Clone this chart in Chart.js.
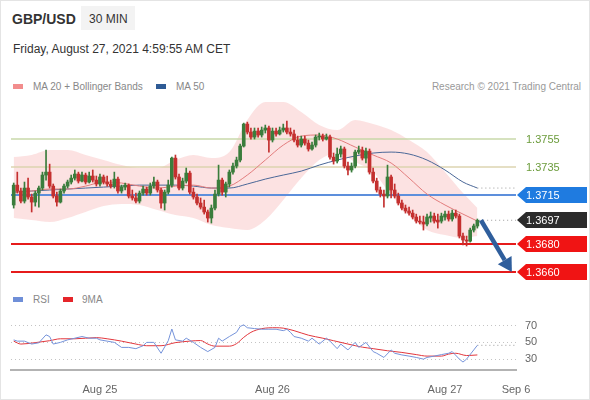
<!DOCTYPE html>
<html>
<head>
<meta charset="utf-8">
<script src="https://cdn.jsdelivr.net/npm/chart.js@4.4.1/dist/chart.umd.min.js"></script>
<style>
  html, body { margin: 0; padding: 0; background: #fff; }
  #wrap { position: relative; width: 590px; height: 400px; overflow: hidden; font-family: "Liberation Sans", Arial, sans-serif; }
  .t { position: absolute; white-space: nowrap; line-height: 1; }
  .sw { position: absolute; width: 10px; height: 5px; }
  .box { position: absolute; left: 0; width: 590px; }
  #frame { position: absolute; left: 0; top: 0; width: 590px; height: 400px; box-sizing: border-box; border: 1px solid #e4e4e4; pointer-events: none; }
</style>
</head>
<body>
<div id="wrap">
  <div class="t" style="left:12px;top:12px;font-size:14px;font-weight:bold;color:#333">GBP/USD</div>
  <div class="t" style="left:81px;top:6px;width:54px;height:24px;background:#f3f3f3"></div>
  <div class="t" style="left:89px;top:13px;font-size:12px;color:#333">30 MIN</div>
  <div class="t" style="left:13px;top:43px;font-size:12px;color:#333">Friday, August 27, 2021 4:59:55 AM CET</div>

  <div class="sw" style="left:13px;top:84px;background:#f28d8d"></div>
  <div class="t" style="left:33px;top:82px;font-size:10px;color:#888">MA 20 + Bollinger Bands</div>
  <div class="sw" style="left:156px;top:84px;background:#2f5b95"></div>
  <div class="t" style="left:176px;top:82px;font-size:10px;color:#888">MA 50</div>
  <div class="t" style="right:9px;top:82px;font-size:10px;color:#999">Research © 2021 Trading Central</div>

  <div class="sw" style="left:13px;top:297px;background:#6f8fd8"></div>
  <div class="t" style="left:33px;top:295px;font-size:10px;color:#888">RSI</div>
  <div class="sw" style="left:63px;top:297px;background:#e5252a"></div>
  <div class="t" style="left:82px;top:295px;font-size:10px;color:#888">9MA</div>

  <div class="box" style="top:95px;height:195px"><canvas id="price"></canvas></div>
  <div class="box" style="top:300px;height:100px"><canvas id="rsi"></canvas></div>
  <div id="frame"></div>
</div>
<script>
// 30 min candles, bar index 0 = Aug 24 12:00
const opens = [1.37079, 1.37221, 1.37179, 1.37107, 1.37200, 1.37136, 1.37100, 1.37164, 1.37200, 1.37293,
    1.37314, 1.37214, 1.37143, 1.37100, 1.37179, 1.37214, 1.37243, 1.37271, 1.37300, 1.37250,
    1.37293, 1.37243, 1.37286, 1.37257, 1.37229, 1.37279, 1.37243, 1.37229, 1.37214, 1.37264,
    1.37179, 1.37207, 1.37221, 1.37143, 1.37129, 1.37107, 1.37164, 1.37193, 1.37164, 1.37214,
    1.37243, 1.37186, 1.37093, 1.37171, 1.37221, 1.37414, 1.37279, 1.37200, 1.37250, 1.37307,
    1.37171, 1.37136, 1.37093, 1.37064, 1.37029, 1.36986, 1.37057, 1.37157, 1.37257, 1.37171,
    1.37229, 1.37314, 1.37357, 1.37400, 1.37500, 1.37657, 1.37600, 1.37564, 1.37607, 1.37579,
    1.37614, 1.37629, 1.37543, 1.37607, 1.37586, 1.37614, 1.37629, 1.37600, 1.37586, 1.37543,
    1.37507, 1.37550, 1.37521, 1.37479, 1.37507, 1.37564, 1.37571, 1.37550, 1.37564, 1.37421,
    1.37393, 1.37443, 1.37479, 1.37357, 1.37329, 1.37357, 1.37457, 1.37471, 1.37414, 1.37464,
    1.37314, 1.37250, 1.37186, 1.37157, 1.37143, 1.37279, 1.37186, 1.37143, 1.37093, 1.37057,
    1.37036, 1.37021, 1.36993, 1.36964, 1.36957, 1.36943, 1.36986, 1.37000, 1.36971, 1.36964,
    1.36993, 1.37014, 1.36979, 1.37021, 1.37000, 1.36857, 1.36829, 1.36821, 1.36900, 1.36929];
const highs = [1.37236, 1.37314, 1.37200, 1.37243, 1.37271, 1.37157, 1.37179, 1.37214, 1.37314, 1.37471,
    1.37371, 1.37229, 1.37171, 1.37193, 1.37229, 1.37257, 1.37293, 1.37329, 1.37314, 1.37314,
    1.37307, 1.37314, 1.37329, 1.37286, 1.37300, 1.37293, 1.37286, 1.37257, 1.37314, 1.37279,
    1.37221, 1.37236, 1.37229, 1.37186, 1.37164, 1.37179, 1.37214, 1.37207, 1.37236, 1.37279,
    1.37257, 1.37200, 1.37186, 1.37257, 1.37421, 1.37436, 1.37300, 1.37271, 1.37343, 1.37321,
    1.37200, 1.37157, 1.37129, 1.37114, 1.37043, 1.37079, 1.37186, 1.37364, 1.37271, 1.37243,
    1.37329, 1.37379, 1.37421, 1.37514, 1.37664, 1.37671, 1.37629, 1.37629, 1.37629, 1.37636,
    1.37650, 1.37643, 1.37629, 1.37629, 1.37636, 1.37657, 1.37679, 1.37629, 1.37614, 1.37571,
    1.37571, 1.37571, 1.37543, 1.37529, 1.37579, 1.37593, 1.37586, 1.37586, 1.37579, 1.37450,
    1.37486, 1.37500, 1.37493, 1.37386, 1.37379, 1.37471, 1.37500, 1.37493, 1.37486, 1.37479,
    1.37343, 1.37271, 1.37207, 1.37186, 1.37364, 1.37293, 1.37229, 1.37164, 1.37114, 1.37079,
    1.37064, 1.37043, 1.37014, 1.37000, 1.37000, 1.37014, 1.37029, 1.37021, 1.37014, 1.37021,
    1.37036, 1.37036, 1.37043, 1.37043, 1.37014, 1.36879, 1.36857, 1.36914, 1.36943, 1.36979];
const lows = [1.37057, 1.37164, 1.37093, 1.37093, 1.37121, 1.37029, 1.37071, 1.37064, 1.37186, 1.37257,
    1.37200, 1.37129, 1.37071, 1.37093, 1.37164, 1.37200, 1.37229, 1.37257, 1.37236, 1.37243,
    1.37229, 1.37236, 1.37243, 1.37214, 1.37214, 1.37229, 1.37214, 1.37200, 1.37200, 1.37164,
    1.37164, 1.37186, 1.37129, 1.37114, 1.37093, 1.37093, 1.37150, 1.37150, 1.37150, 1.37200,
    1.37171, 1.37057, 1.37043, 1.37157, 1.37207, 1.37264, 1.37186, 1.37186, 1.37236, 1.37157,
    1.37121, 1.37079, 1.37050, 1.37014, 1.36957, 1.36950, 1.37043, 1.37143, 1.37150, 1.37136,
    1.37207, 1.37300, 1.37343, 1.37386, 1.37493, 1.37586, 1.37550, 1.37550, 1.37564, 1.37564,
    1.37593, 1.37457, 1.37529, 1.37571, 1.37579, 1.37600, 1.37586, 1.37571, 1.37529, 1.37493,
    1.37493, 1.37507, 1.37464, 1.37471, 1.37493, 1.37543, 1.37536, 1.37543, 1.37407, 1.37371,
    1.37379, 1.37421, 1.37343, 1.37293, 1.37314, 1.37343, 1.37443, 1.37400, 1.37379, 1.37300,
    1.37236, 1.37171, 1.37136, 1.37064, 1.37129, 1.37129, 1.37129, 1.37079, 1.37043, 1.37021,
    1.37007, 1.36979, 1.36950, 1.36943, 1.36900, 1.36929, 1.36957, 1.36950, 1.36914, 1.36950,
    1.36971, 1.36964, 1.36964, 1.36986, 1.36843, 1.36793, 1.36786, 1.36814, 1.36886, 1.36914];
const closes = [1.37221, 1.37179, 1.37107, 1.37200, 1.37136, 1.37100, 1.37164, 1.37200, 1.37293, 1.37314,
    1.37214, 1.37143, 1.37100, 1.37179, 1.37214, 1.37243, 1.37271, 1.37300, 1.37250, 1.37293,
    1.37243, 1.37286, 1.37257, 1.37229, 1.37279, 1.37243, 1.37229, 1.37214, 1.37264, 1.37179,
    1.37207, 1.37221, 1.37143, 1.37129, 1.37107, 1.37164, 1.37193, 1.37164, 1.37214, 1.37243,
    1.37186, 1.37093, 1.37171, 1.37221, 1.37414, 1.37279, 1.37200, 1.37250, 1.37307, 1.37171,
    1.37136, 1.37093, 1.37064, 1.37029, 1.36986, 1.37057, 1.37157, 1.37257, 1.37171, 1.37229,
    1.37314, 1.37357, 1.37400, 1.37500, 1.37657, 1.37600, 1.37564, 1.37607, 1.37579, 1.37614,
    1.37629, 1.37543, 1.37607, 1.37586, 1.37614, 1.37629, 1.37600, 1.37586, 1.37543, 1.37507,
    1.37550, 1.37521, 1.37479, 1.37507, 1.37564, 1.37571, 1.37550, 1.37564, 1.37421, 1.37393,
    1.37443, 1.37479, 1.37357, 1.37329, 1.37357, 1.37457, 1.37471, 1.37414, 1.37464, 1.37314,
    1.37250, 1.37186, 1.37157, 1.37143, 1.37279, 1.37186, 1.37143, 1.37093, 1.37057, 1.37036,
    1.37021, 1.36993, 1.36964, 1.36957, 1.36943, 1.36993, 1.37000, 1.36964, 1.36957, 1.37000,
    1.37014, 1.36979, 1.37021, 1.37000, 1.36857, 1.36829, 1.36821, 1.36900, 1.36929, 1.36970];

// indicators read every 5 bars
const indX = [0, 5, 10, 15, 20, 25, 30, 35, 40, 45, 50, 55, 60, 65, 70, 75, 80, 85, 90, 95, 100, 105, 110, 115, 120, 125, 129];
const bandUpper = [1.37421, 1.37436, 1.37471, 1.37471, 1.37436, 1.37400, 1.37364, 1.37343, 1.37343, 1.37400, 1.37436, 1.37414, 1.37457,
    1.37686, 1.37814, 1.37814, 1.37743, 1.37650, 1.37614, 1.37686, 1.37657, 1.37614, 1.37543, 1.37457, 1.37314, 1.37164, 1.37057];
const bandLower = [1.36986, 1.36971, 1.36957, 1.36986, 1.37029, 1.37071, 1.37086, 1.37079, 1.37043, 1.37007, 1.36986, 1.36936, 1.36914,
    1.36900, 1.36971, 1.37114, 1.37271, 1.37400, 1.37450, 1.37386, 1.37314, 1.37150, 1.37007, 1.36900, 1.36864, 1.36843, 1.36857];
const ma20 = [1.37171, 1.37179, 1.37193, 1.37193, 1.37214, 1.37243, 1.37236, 1.37214, 1.37200, 1.37214, 1.37221, 1.37200, 1.37214,
    1.37293, 1.37400, 1.37507, 1.37571, 1.37579, 1.37550, 1.37493, 1.37436, 1.37379, 1.37271, 1.37157, 1.37079, 1.37014, 1.36964];
const ma50 = [1.37171, 1.37179, 1.37186, 1.37193, 1.37200, 1.37207, 1.37214, 1.37221, 1.37221, 1.37221, 1.37214, 1.37200, 1.37200,
    1.37229, 1.37264, 1.37293, 1.37321, 1.37364, 1.37400, 1.37429, 1.37450, 1.37457, 1.37443, 1.37400, 1.37329, 1.37243, 1.37200];

// RSI panel
const rsiX = [0, 1, 3, 5, 7, 9, 10, 11, 13, 15, 17, 19, 21, 23, 24, 26, 28, 30, 32, 34,
    36, 37, 39, 41, 43, 44, 45, 47, 48, 50, 52, 54, 56, 57, 58, 60, 62, 63, 64, 65,
    67, 69, 71, 73, 75, 76, 77, 78, 80, 82, 83, 85, 87, 88, 90, 91, 93, 95, 96, 98,
    100, 101, 103, 105, 106, 108, 110, 112, 114, 115, 117, 119, 121, 122, 124, 125, 126, 128, 129];
const rsi = [53, 51.5, 51.5, 48, 49.5, 59, 57, 48, 50, 53, 55, 57, 55, 55, 53, 51.5, 50, 44, 44, 42.5,
    46, 50, 50, 37, 52, 66, 53, 51.5, 55, 50, 44, 39, 44, 55, 51.5, 57, 62, 69, 71, 67.5,
    66.5, 65.7, 65.7, 65.7, 64, 65.7, 62, 57, 55, 51.5, 55, 48, 55, 51.5, 42.5, 48, 41, 50, 44, 50,
    39, 37, 32, 41, 37, 35, 33.6, 32, 30, 32, 33.6, 35.4, 37, 39, 30, 26.5, 30, 41, 46.5];
const rsiMaX = [0, 2, 6, 10, 13, 17, 23, 26, 30, 34, 37, 41, 45, 49, 52, 54, 56, 60, 62, 64,
    66, 69, 73, 75, 78, 82, 86, 89, 93, 97, 100, 104, 108, 112, 115, 119, 121, 123, 126, 129];
const rsiMa = [51.5, 48, 49.7, 52, 54.3, 54.3, 55.7, 54.3, 51.5, 48, 46, 46, 49.7, 51.5, 52.2, 48, 45.5, 45.5, 48.5, 56,
    62, 66.4, 67.5, 67, 64, 58.6, 55, 52, 48, 44.3, 42.5, 40, 38, 35.4, 33.6, 33.6, 36, 37, 34.3, 35];

// price levels shown on the right
const levelValues = [1.3755, 1.3735, 1.3715, 1.3697, 1.3680, 1.3660];
const levelLabels = ['1.3755', '1.3735', '1.3715', '1.3697', '1.3680', '1.3660'];
const arrowFrom = [130, 1.3697];
const arrowTo = [138.6, 1.3660];

// time axis
const xMin = -0.75, xMax = 139.75;
const tickValues = [24, 72, 120, 139.75];
const tickLabels = ['Aug 25', 'Aug 26', 'Aug 27', 'Sep 6'];
const rsiTicks = [30, 50, 70];

Chart.defaults.font.family = '"Liberation Sans", Arial, sans-serif';

const pts = (xs, ys) => xs.map((x, k) => ({ x: x, y: ys[k] }));
const flat = (v, from) => [{ x: from, y: v }, { x: xMax, y: v }];
const barIdx = closes.map((c, i) => i);
const candleColors = barIdx.map(i => closes[i] >= opens[i] ? '#3a7d3c' : '#c4302f');

// styles per level: line colour/width (null = no full line), tag colour (null = text only)
const levelLine = [['#c8d9aa', 1.5], ['#ddd4b0', 1.5], ['#5d8fdc', 2], null, ['#e61b1b', 2], ['#e61b1b', 2]];
const levelTag = [null, null, '#1f7be0', '#2b2b2b', '#f01414', '#f01414'];

const levelDatasets = [];
levelValues.forEach((v, k) => {
    if (!levelLine[k]) return;
    levelDatasets.push({
        type: 'line', data: flat(v, xMin), borderColor: levelLine[k][0], borderWidth: levelLine[k][1],
        pointRadius: 0, fill: false, order: 7
    });
});

// tags on the right and the forecast arrow
const levelTags = {
    id: 'levelTags',
    afterDraw(chart) {
        const { ctx, chartArea, scales: { x, y } } = chart;
        ctx.save();

        const x0 = x.getPixelForValue(arrowFrom[0]), y0 = y.getPixelForValue(arrowFrom[1]);
        const x1 = x.getPixelForValue(arrowTo[0]), y1 = y.getPixelForValue(arrowTo[1]);
        const ang = Math.atan2(y1 - y0, x1 - x0);
        const head = 14, half = 8;
        const bx = x1 - head * Math.cos(ang), by = y1 - head * Math.sin(ang);
        ctx.strokeStyle = '#2f5e9c';
        ctx.fillStyle = '#2f5e9c';
        ctx.lineWidth = 4.5;
        ctx.beginPath();
        ctx.moveTo(x0, y0);
        ctx.lineTo(bx, by);
        ctx.stroke();
        ctx.beginPath();
        ctx.moveTo(x1, y1);
        ctx.lineTo(bx + half * Math.sin(ang), by - half * Math.cos(ang));
        ctx.lineTo(bx - half * Math.sin(ang), by + half * Math.cos(ang));
        ctx.closePath();
        ctx.fill();

        ctx.font = '11px "Liberation Sans", Arial, sans-serif';
        ctx.textBaseline = 'middle';
        levelValues.forEach((v, k) => {
            const py = Math.round(y.getPixelForValue(v));
            const left = chartArea.right + 1, w = 70, h = 16, tip = 9;
            if (levelTag[k]) {
                ctx.fillStyle = levelTag[k];
                ctx.beginPath();
                ctx.moveTo(left, py);
                ctx.lineTo(left + tip, py - h / 2);
                ctx.lineTo(left + w, py - h / 2);
                ctx.lineTo(left + w, py + h / 2);
                ctx.lineTo(left + tip, py + h / 2);
                ctx.closePath();
                ctx.fill();
                ctx.fillStyle = '#fff';
            } else {
                ctx.fillStyle = '#6c9c3c';
            }
            ctx.fillText(levelLabels[k], left + 9, py + 1);
        });
        ctx.restore();
    }
};

new Chart(document.getElementById('price'), {
    type: 'bar',
    data: {
        datasets: [
            {
                type: 'line', data: pts(indX, bandUpper), fill: '+1', backgroundColor: 'rgba(244,140,140,0.25)',
                borderColor: 'rgba(0,0,0,0)', borderWidth: 1, pointRadius: 0, cubicInterpolationMode: 'monotone', order: 10
            },
            {
                type: 'line', data: pts(indX, bandLower), fill: false,
                borderColor: 'rgba(0,0,0,0)', borderWidth: 1, pointRadius: 0, cubicInterpolationMode: 'monotone', order: 10
            },
            ...levelDatasets,
            {
                type: 'line', data: pts(indX, ma20), borderColor: '#e27c7c', borderWidth: 1,
                pointRadius: 0, cubicInterpolationMode: 'monotone', fill: false, order: 5
            },
            {
                type: 'line', data: pts(indX, ma50), borderColor: '#4a6797', borderWidth: 1,
                pointRadius: 0, cubicInterpolationMode: 'monotone', fill: false, order: 5
            },
            {
                type: 'line', data: flat(ma50[ma50.length - 1], indX[indX.length - 1]), borderColor: '#999',
                borderWidth: 1, borderDash: [1, 3], pointRadius: 0, fill: false, order: 5
            },
            {
                type: 'line', data: flat(closes[closes.length - 1], barIdx.length - 0.5), borderColor: '#999',
                borderWidth: 1, borderDash: [1, 3], pointRadius: 0, fill: false, order: 5
            },
            {
                data: barIdx.map(i => ({ x: i, y: [lows[i], highs[i]] })),
                backgroundColor: candleColors, barThickness: 1, grouped: false, minBarLength: 1, order: 2
            },
            {
                data: barIdx.map(i => ({ x: i, y: [opens[i], closes[i]] })),
                backgroundColor: candleColors, barThickness: 3, grouped: false, minBarLength: 1, order: 1
            }
        ]
    },
    options: {
        responsive: true,
        maintainAspectRatio: false,
        animation: false,
        layout: { padding: { left: 11, right: 74, top: 5, bottom: 8 } },
        plugins: { legend: { display: false }, tooltip: { enabled: false } },
        scales: {
            x: { type: 'linear', min: xMin, max: xMax, offset: false, display: false },
            y: { type: 'linear', min: 1.36529, max: 1.37829, beginAtZero: false, display: false }
        }
    },
    plugins: [levelTags]
});

new Chart(document.getElementById('rsi'), {
    type: 'line',
    data: {
        datasets: [
            { data: pts(rsiX, rsi), borderColor: '#7593da', borderWidth: 1, pointRadius: 0, tension: 0, fill: false },
            { data: pts(rsiMaX, rsiMa), borderColor: '#e2363c', borderWidth: 1, pointRadius: 0, cubicInterpolationMode: 'monotone', fill: false },
            {
                data: flat(rsi[rsi.length - 1], rsiX[rsiX.length - 1]), borderColor: '#999', borderWidth: 1,
                borderDash: [1, 3], pointRadius: 0, fill: false
            }
        ]
    },
    options: {
        responsive: true,
        maintainAspectRatio: false,
        animation: false,
        layout: { padding: { left: 11, right: 0, top: 10, bottom: 0 } },
        plugins: { legend: { display: false }, tooltip: { enabled: false } },
        scales: {
            x: {
                type: 'linear', min: xMin, max: xMax,
                grid: { display: false },
                border: { color: '#b3b3b3', width: 2 },
                afterBuildTicks: s => { s.ticks = tickValues.map(v => ({ value: v })); },
                afterFit: s => { s.height = 30; },
                ticks: {
                    color: '#666', font: { size: 11 }, padding: 5, maxRotation: 0, autoSkip: false,
                    callback: v => tickLabels[tickValues.indexOf(v)]
                }
            },
            y: {
                position: 'right', min: 17, max: 82,
                afterBuildTicks: s => { s.ticks = rsiTicks.map(v => ({ value: v })); },
                afterFit: s => { s.width = 74; },
                grid: { color: '#c4c4c4', drawTicks: false },
                border: { display: false, dash: [1, 3] },
                ticks: { color: '#666', font: { size: 11 }, padding: 9 }
            }
        }
    }
});
</script>
</body>
</html>
